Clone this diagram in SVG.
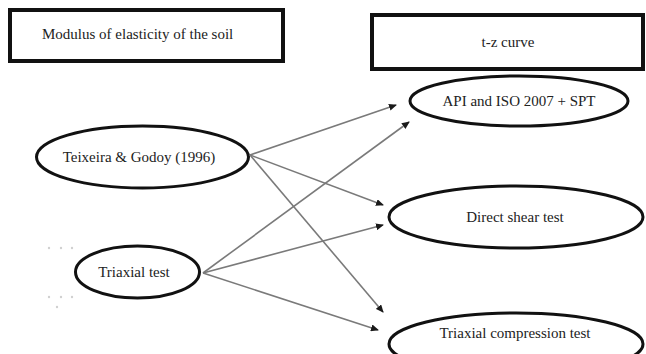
<svg xmlns="http://www.w3.org/2000/svg" width="646" height="354" viewBox="0 0 646 354">
<defs>
<style>
.box{fill:#fff;stroke:#111;stroke-width:4}
.ell{fill:#fff;stroke:#111;stroke-width:3}
.lbl{font-family:"Liberation Serif","Times New Roman",serif;font-size:15px;fill:#222;text-anchor:middle}
.conn{stroke:#7a7a7a;stroke-width:1.6;fill:none;marker-end:url(#ah)}
.dot{fill:#d0d0d0}
</style>
<marker id="ah" markerUnits="userSpaceOnUse" markerWidth="8" markerHeight="7" refX="7" refY="3.5" orient="auto">
<path d="M0,0 L8,3.5 L0,7 z" fill="#1a1a1a"/>
</marker>
</defs>
<rect width="646" height="354" fill="#fff"/>
<g id="modulus">
<rect class="box" x="10" y="10" width="273" height="51"/>
<text class="lbl" x="137" y="39" style="text-anchor:start" transform="translate(-95,0)">Modulus of elasticity of the soil</text>
</g>
<g id="tz">
<rect class="box" x="372" y="15" width="271" height="54"/>
<text class="lbl" x="508" y="47">t-z curve</text>
</g>
<g id="teixeira">
<ellipse class="ell" cx="142.5" cy="157" rx="106" ry="31"/>
<text class="lbl" x="139" y="162">Teixeira &amp; Godoy (1996)</text>
</g>
<g id="triaxial">
<ellipse class="ell" cx="137.5" cy="272" rx="62" ry="26"/>
<text class="lbl" x="134" y="277">Triaxial test</text>
</g>
<g id="api">
<ellipse class="ell" cx="519" cy="101" rx="109" ry="25"/>
<text class="lbl" x="519" y="106">API and ISO 2007 + SPT</text>
</g>
<g id="direct">
<ellipse class="ell" cx="516" cy="217" rx="127" ry="31"/>
<text class="lbl" x="515" y="222">Direct shear test</text>
</g>
<g id="compression">
<ellipse class="ell" cx="516" cy="344" rx="127" ry="31"/>
<text class="lbl" x="515" y="338">Triaxial compression test</text>
</g>
<g id="connectors">
<line class="conn" x1="250" y1="155" x2="396" y2="105"/>
<line class="conn" x1="250" y1="155" x2="383" y2="205"/>
<line class="conn" x1="250" y1="155" x2="383" y2="312"/>
<line class="conn" x1="203" y1="273" x2="409" y2="122"/>
<line class="conn" x1="203" y1="273" x2="383" y2="225"/>
<line class="conn" x1="203" y1="273" x2="378" y2="330"/>
</g>
<g id="dots">
<circle class="dot" cx="49" cy="248" r="1.2"/>
<circle class="dot" cx="61" cy="248" r="1.2"/>
<circle class="dot" cx="72" cy="248" r="1.2"/>
<circle class="dot" cx="49" cy="297" r="1.2"/>
<circle class="dot" cx="61" cy="297" r="1.2"/>
<circle class="dot" cx="72" cy="297" r="1.2"/>
<circle class="dot" cx="57" cy="307" r="1.2"/>
</g>
</svg>
